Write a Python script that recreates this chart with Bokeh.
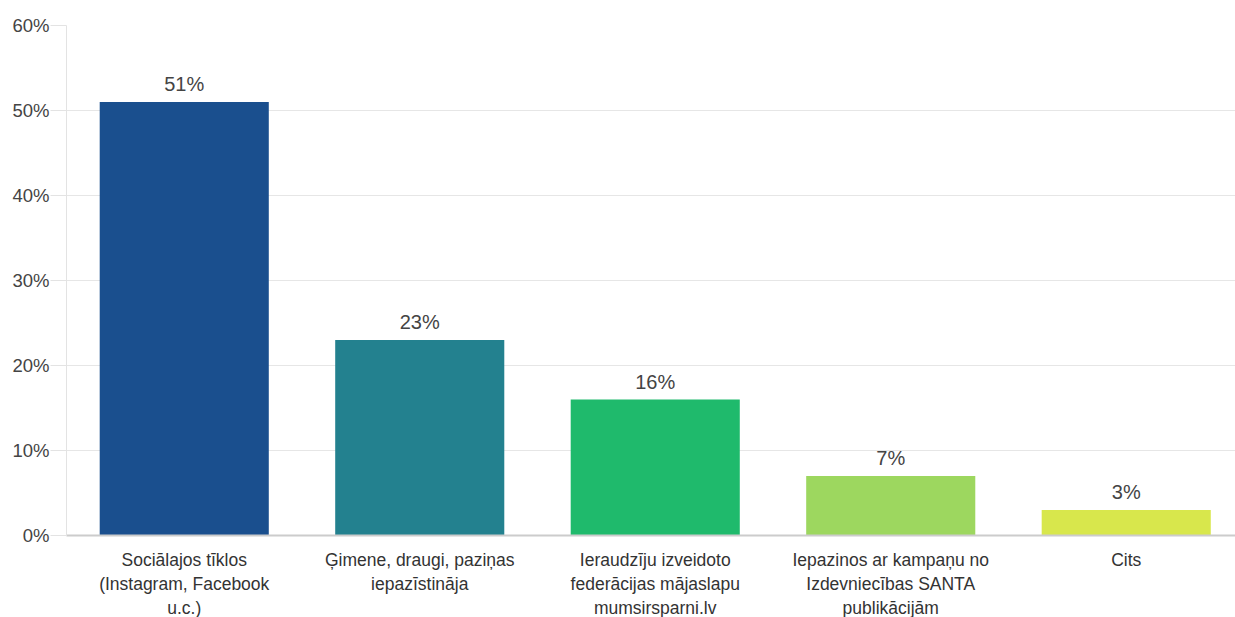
from bokeh.plotting import figure
from bokeh.models import ColumnDataSource, PrintfTickFormatter, FixedTicker, Range1d
from bokeh.embed import file_html
from bokeh.resources import INLINE
from bokeh.core.properties import value

categories = [
    "Sociālajos tīklos\n(Instagram, Facebook\nu.c.)",
    "Ģimene, draugi, paziņas\niepazīstināja",
    "Ieraudzīju izveidoto\nfederācijas mājaslapu\nmumsirsparni.lv",
    "Iepazinos ar kampaņu no\nIzdevniecības SANTA\npublikācijām",
    "Cits",
]
values = [51, 23, 16, 7, 3]
labels = ["51%", "23%", "16%", "7%", "3%"]
colors = ["#1a4f8e", "#23818f", "#1fba6c", "#9dd75f", "#d8e74c"]

xpos = [i + 0.5 for i in range(len(categories))]
src = ColumnDataSource(dict(x=xpos, cat=categories, val=values, lab=labels, col=colors))

p = figure(x_range=Range1d(0, 4.964), y_range=Range1d(0, 60),
           frame_width=1169, frame_height=510,
           output_backend="svg", toolbar_location=None,
           min_border_left=66, min_border_right=0, min_border_top=25, min_border_bottom=0)
p.outline_line_color = None
p.background_fill_color = "white"

p.vbar(x="x", top="val", width=0.718, fill_color="col", line_color=None, source=src)
p.text(x="x", y="val", text="lab", source=src, text_align="center", text_baseline="bottom",
       y_offset=-7, text_font=value("Liberation Sans"), text_font_size="20px", text_color="#444444")

p.yaxis.ticker = FixedTicker(ticks=[0, 10, 20, 30, 40, 50, 60])
p.yaxis.formatter = PrintfTickFormatter(format="%d%%")
p.yaxis.axis_line_color = "#e3e3e3"
p.yaxis.major_tick_line_color = "#e3e3e3"
p.yaxis.major_tick_out = 16
p.yaxis.major_tick_in = 0
p.yaxis.minor_tick_line_color = None
p.yaxis.major_label_text_font = "Liberation Sans"
p.yaxis.major_label_text_font_size = "18.5px"
p.yaxis.major_label_text_color = "#444444"
p.yaxis.major_label_standoff = 1

p.xaxis.ticker = FixedTicker(ticks=xpos)
p.xaxis.major_label_overrides = {x: c for x, c in zip(xpos, categories)}
p.xaxis.axis_line_color = "#cccccc"
p.xaxis.axis_line_width = 2
p.xaxis.major_tick_line_color = None
p.xaxis.minor_tick_line_color = None
p.xaxis.major_label_text_font = "Liberation Sans"
p.xaxis.major_label_text_font_size = "17.5px"
p.xaxis.major_label_text_line_height = 1.2
p.xaxis.major_label_text_color = "#333333"
p.xaxis.major_label_standoff = 8

p.xgrid.grid_line_color = None
p.ygrid.grid_line_color = "#e6e6e6"

open("out.html", "w").write(file_html(p, INLINE))
